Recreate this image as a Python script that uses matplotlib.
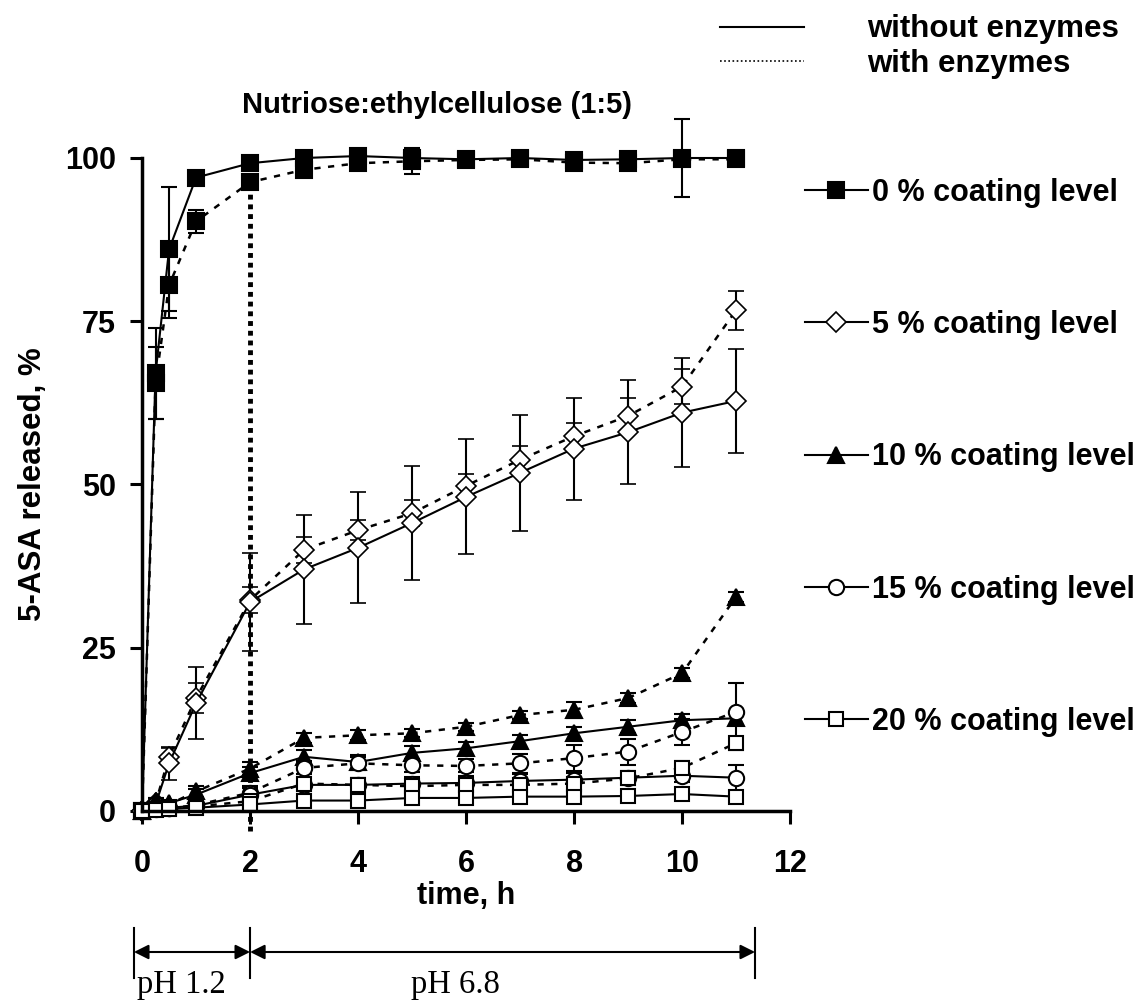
import numpy as np
import matplotlib
matplotlib.use('Agg')
import matplotlib.pyplot as plt
from matplotlib.lines import Line2D
import matplotlib.transforms as mtransforms

plt.rcParams['font.family'] = ['Liberation Sans', 'DejaVu Sans']
plt.rcParams['font.weight'] = 'bold'

# sampling times, h
t = np.array([0, 0.25, 0.5, 1, 2, 3, 4, 5, 6, 7, 8, 9, 10, 11])

# 5-ASA released, % (solid = without enzymes, dotted = with enzymes)
c0_without = np.array([0, 67, 86, 97, 99.2, 100, 100.3, 100, 99.8, 100, 99.7, 99.8, 100, 100])
c0_without_err = np.array([0, 7, 9.5, 1, 0.5, 0.5, 0.5, 0.5, 0.5, 0.5, 0.5, 0.5, 6, 0.5])
c0_with = np.array([0, 65.5, 80.5, 90.3, 96.3, 98.2, 99.2, 99.5, 99.7, 99.8, 99.3, 99.2, 99.8, 99.8])
c0_with_err = np.array([0, 5.5, 5, 1.8, 0.8, 1, 0.6, 2, 0.5, 0.5, 0.5, 0.5, 0.5, 0.5])

c5_without = np.array([0, 1.0, 7.3, 16.5, 32.0, 37.0, 40.3, 44.1, 48.1, 51.8, 55.5, 58.0, 61.0, 62.8])
c5_without_err = np.array([0, 0.5, 2.5, 5.5, 7.5, 8.4, 8.5, 8.7, 8.8, 8.9, 7.8, 8.0, 8.3, 7.9])
c5_with = np.array([0, 1.2, 8.3, 17.3, 32.3, 40.0, 43.0, 45.6, 49.8, 53.8, 57.4, 60.5, 65.0, 76.7])
c5_with_err = np.array([0, 0.5, 1.3, 2.3, 2.0, 2.0, 1.5, 2.0, 1.8, 2.1, 2.0, 2.8, 2.7, 3.0])

c10_without = np.array([0, 1.5, 1.2, 2.5, 5.8, 8.3, 7.5, 8.9, 9.6, 10.7, 11.9, 12.9, 13.9, 14.2])
c10_without_err = np.array([0, 0.5, 0.5, 0.8, 1, 1, 1, 1, 1, 1, 1, 1, 1, 1])
c10_with = np.array([0, 1.5, 1.0, 3.0, 6.5, 11.2, 11.6, 11.9, 12.9, 14.7, 15.5, 17.3, 21.1, 32.8])
c10_with_err = np.array([0, 0.5, 0.5, 0.8, 1, 0.8, 0.8, 0.6, 0.6, 0.6, 1.2, 0.8, 0.8, 0.8])

c15_without = np.array([0, 0.5, 0.5, 0.8, 2.5, 4.0, 4.0, 4.2, 4.3, 4.6, 4.8, 5.1, 5.4, 5.1])
c15_without_err = np.array([0, 0.3, 0.3, 0.5, 1, 1, 1, 1, 1, 1, 1, 1, 1, 2])
c15_with = np.array([0, 0.3, 0.4, 0.9, 2.8, 6.6, 7.3, 7.0, 6.9, 7.3, 8.1, 9.1, 12.1, 15.2])
c15_with_err = np.array([0, 0.3, 0.3, 0.5, 1, 1, 1, 1, 1, 1.5, 2, 2, 2, 4.4])

c20_without = np.array([0, 0.2, 0.3, 0.5, 1.0, 1.6, 1.6, 2.0, 2.0, 2.2, 2.2, 2.3, 2.6, 2.2])
c20_without_err = np.array([0, 0.2, 0.2, 0.3, 0.5, 0.5, 0.5, 0.5, 0.5, 0.5, 0.5, 0.5, 0.5, 0.5])
c20_with = np.array([0, 0.3, 0.4, 0.7, 1.5, 4.2, 4.0, 3.8, 4.0, 4.0, 4.2, 5.0, 6.6, 10.4])
c20_with_err = np.array([0, 0.2, 0.2, 0.3, 0.5, 1, 1, 1, 1, 1, 1, 1, 1, 1])

labels = ['0 % coating level', '5 % coating level', '10 % coating level',
          '15 % coating level', '20 % coating level']
markers = ['s', 'D', '^', 'o', 's']
filled = [True, False, True, False, False]
msizes = [11, 10, 12, 11, 10]

series = [(c0_without, c0_without_err, c0_with, c0_with_err),
          (c5_without, c5_without_err, c5_with, c5_with_err),
          (c10_without, c10_without_err, c10_with, c10_with_err),
          (c15_without, c15_without_err, c15_with, c15_with_err),
          (c20_without, c20_without_err, c20_with, c20_with_err)]

fig = plt.figure(figsize=(11.41, 10), dpi=100)
ax = fig.add_axes([0.1245, 0.189, 0.568, 0.653])

dotted = (0, (2.5, 3))
handles = []
for (yw, ew, ye, ee), m, f, ms, lab in zip(series, markers, filled, msizes, labels):
    fc = 'black' if f else 'white'
    mw = 1.2 if m == 'D' else 1.5
    ax.errorbar(t, ye, yerr=ee, color='black', ls=dotted, lw=1.8, marker=m, ms=ms,
                mfc=fc, mec='black', mew=mw, capsize=6, elinewidth=1.5,
                capthick=1.5, clip_on=False)
    ax.errorbar(t, yw, yerr=ew, color='black', ls='-', lw=1.5, marker=m, ms=ms,
                mfc=fc, mec='black', mew=mw, capsize=6, elinewidth=1.5,
                capthick=1.5, clip_on=False)
    handles.append(Line2D([], [], color='black', lw=1.5, marker=m, ms=ms,
                          mfc=fc, mec='black', mew=mw, label=lab))

# end of pH 1.2 phase
ax.plot([2, 2], [-3, 99], color='black', lw=3.5, ls=(0, (1, 1)), clip_on=False)

ax.set_xlim(0, 12)
ax.set_ylim(0, 100)
ax.set_xticks(np.arange(0, 13, 2))
ax.set_yticks([0, 25, 50, 75, 100])
ax.tick_params(labelsize=22, width=2.2, length=9, direction='out')
ax.tick_params(axis='x', pad=18)
ax.tick_params(axis='y', pad=10)
for s in ['top', 'right']:
    ax.spines[s].set_visible(False)
for s in ['left', 'bottom']:
    ax.spines[s].set_linewidth(2.5)
for lbl in ax.get_xticklabels() + ax.get_yticklabels():
    lbl.set_fontweight('bold')

ax.set_xlabel('time, h', fontsize=22, fontweight='bold', labelpad=2)
ax.set_ylabel('5-ASA released, %', fontsize=22.5, fontweight='bold', labelpad=12)
fig.text(0.383, 0.895, 'Nutriose:ethylcellulose (1:5)', fontsize=21, fontweight='bold',
         ha='center', va='center')

# coating level legend
fig.legend(handles=handles, loc='upper left', bbox_to_anchor=(0.7055, 0.8225),
           frameon=False, fontsize=22, handlelength=2.05, handletextpad=0.15,
           labelspacing=3.35, borderpad=0, borderaxespad=0)

# enzyme legend
enz = [Line2D([], [], color='black', lw=1.5, ls='-', label='without enzymes'),
       Line2D([], [], color='black', lw=1.2, ls=(0, (1, 1.5)), label='with enzymes')]
fig.legend(handles=enz, loc='upper left', bbox_to_anchor=(0.631, 0.9855), frameon=False,
           fontsize=22.5, handlelength=2.7, handletextpad=2.0, labelspacing=0.14,
           borderpad=0, borderaxespad=0)

# pH phases below the time axis
trans = mtransforms.blended_transform_factory(ax.transData, fig.transFigure)
ya = 0.048
for xb in [-0.15, 2, 11.35]:
    ax.plot([xb, xb], [0.022, 0.072], color='black', lw=1.5, transform=trans, clip_on=False)
for x0, x1 in [(-0.15, 2), (2, 11.35)]:
    ax.annotate('', xy=(x1, ya), xytext=(x0, ya), xycoords=trans, textcoords=trans,
                arrowprops=dict(arrowstyle='<|-|>', color='black', lw=1.5,
                                mutation_scale=22, shrinkA=0, shrinkB=0))
ax.text(-0.1, 0.0, 'pH 1.2', transform=trans, ha='left', va='bottom',
        fontsize=23.5, fontweight='normal', family=['Liberation Serif'])
ax.text(5.8, 0.0, 'pH 6.8', transform=trans, ha='center', va='bottom',
        fontsize=23.5, fontweight='normal', family=['Liberation Serif'])

fig.savefig('out.png', dpi=100)
